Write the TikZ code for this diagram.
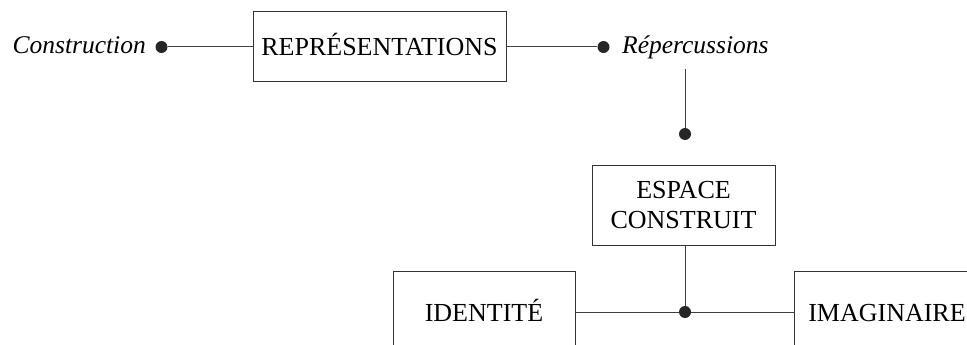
\documentclass[tikz,border=0pt]{standalone}
\usepackage{fontspec}
\setmainfont{Liberation Serif}
\begin{document}
\begin{tikzpicture}[x=1pt,y=-1pt,
  box/.style={draw=black!80, line width=1pt, inner sep=0pt, font=\fontsize{26}{30}\selectfont, align=center},
  oneline/.style={text height=17pt, text depth=0pt},
  lbl/.style={inner sep=0pt, font=\fontsize{25.5}{30}\selectfont\itshape},
  link/.style={draw=black!75, line width=1pt},
  dot/.style={circle, fill=black!85, inner sep=0pt, minimum size=12pt}]
\useasboundingbox (0,0) rectangle (967,345);
\clip (0,0) rectangle (967,345);
% top row
\node[box, oneline, minimum width=253pt, minimum height=70pt] (rep) at (379.5,47) {REPRÉSENTATIONS};
\node[lbl, anchor=base east] (cons) at (146,54) {Construction};
\node[lbl, anchor=base west] (rcs) at (622,54) {Répercussions};
\node[dot] (d1) at (161.5,47) {};
\node[dot] (d2) at (603.5,47) {};
\draw[link] (d1) -- (rep.west);
\draw[link] (rep.east) -- (d2);
% vertical link
\coordinate (rtop) at (685,69);
\node[dot] (d3) at (685,134) {};
\draw[link] (rtop) -- (d3);
% espace construit
\node[box, minimum width=183pt, minimum height=80pt] (esp) at (683.5,205) {ESPACE\\CONSTRUIT};
% bottom row
\node[box, oneline, minimum width=182pt, minimum height=84pt] (ident) at (484,313) {IDENTITÉ};
\node[box, oneline, minimum width=186pt, minimum height=84pt] (imag) at (887,313) {IMAGINAIRE};
\node[dot] (d4) at (685,312) {};
\draw[link] (esp.south -| d4) -- (d4);
\draw[link] (ident.east |- d4) -- (d4);
\draw[link] (d4) -- (imag.west |- d4);
\end{tikzpicture}
\end{document}
